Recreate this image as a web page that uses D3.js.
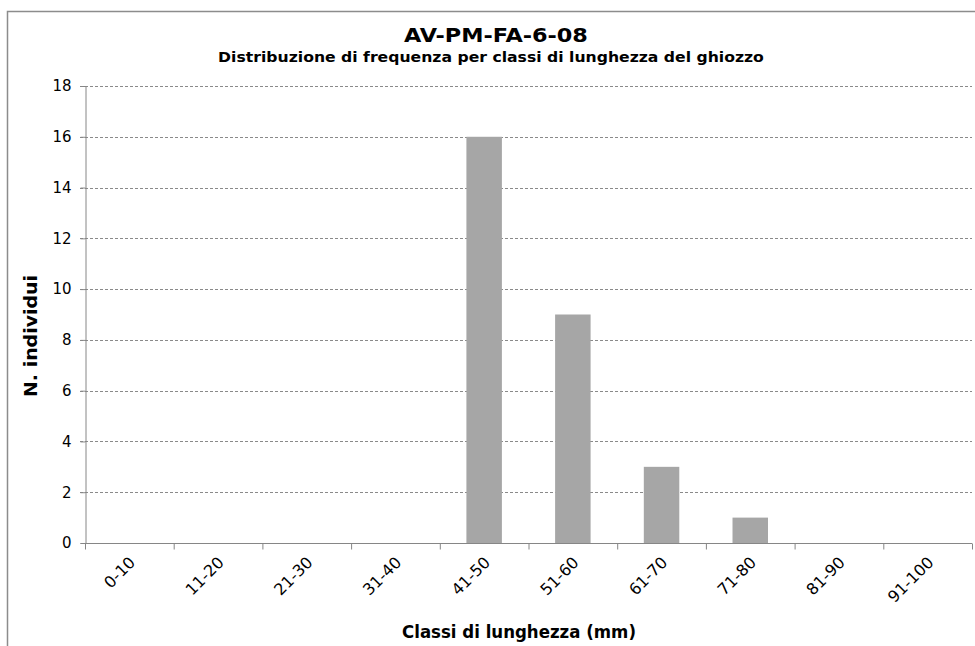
<!DOCTYPE html>
<html>
<head>
<meta charset="utf-8">
<script src="https://cdn.jsdelivr.net/npm/d3@7"></script>
<style>
  body { margin: 0; background: #fff; }
  text { font-family: "DejaVu Sans", sans-serif; fill: #000; }
</style>
</head>
<body>
<div id="chart"></div>
<script>
// dati del grafico
var classi = ["0-10", "11-20", "21-30", "31-40", "41-50", "51-60", "61-70", "71-80", "81-90", "91-100"];
var individui = [0, 0, 0, 0, 16, 9, 3, 1, 0, 0];
var yTicks = [0, 2, 4, 6, 8, 10, 12, 14, 16, 18];

var width = 975, height = 646;
var margin = { top: 86, right: 3, bottom: 103, left: 85 };

var svg = d3.select("#chart").append("svg")
  .attr("width", width)
  .attr("height", height);

// cornice
svg.append("path")
  .attr("d", "M7.5," + height + "V11.5H" + width)
  .style("fill", "none")
  .style("stroke", "#8c8c8c")
  .style("stroke-width", 1.5);

var x = d3.scaleBand()
  .domain(classi)
  .range([margin.left, width - margin.right])
  .paddingInner(0.6)
  .paddingOuter(0.3);

var xTick = d3.scaleBand()
  .domain(classi)
  .range([margin.left, width - margin.right]);

var y = d3.scaleLinear()
  .domain([0, 18])
  .range([height - margin.bottom, margin.top]);

// griglia orizzontale
svg.append("g")
  .selectAll("line")
  .data(yTicks.filter(function (d) { return d > 0; }))
  .enter()
  .append("line")
  .attr("x1", margin.left - 5)
  .attr("x2", width - margin.right)
  .attr("y1", function (d) { return Math.round(y(d)) + 0.5; })
  .attr("y2", function (d) { return Math.round(y(d)) + 0.5; })
  .style("stroke", "#8a8a8a")
  .style("stroke-dasharray", "3,2");

// barre
svg.append("g")
  .selectAll("rect")
  .data(individui)
  .enter()
  .append("rect")
  .attr("x", function (d, i) { return x(classi[i]); })
  .attr("y", function (d) { return y(d); })
  .attr("width", x.bandwidth())
  .attr("height", function (d) { return y(0) - y(d); })
  .style("fill", "#a6a6a6");

// asse y
var yAxis = svg.append("g")
  .attr("transform", "translate(" + (margin.left + 0.5) + ",0)")
  .call(d3.axisLeft(y).tickValues(yTicks).tickSize(5).tickPadding(9));
yAxis.selectAll("path, line").style("stroke", "#868686");
yAxis.selectAll("text")
  .style("font-size", "15px")
  .style("font-family", "DejaVu Sans, sans-serif")
  .attr("fill", "#1a1a1a");

// asse x
var xAxisG = svg.append("g")
  .attr("transform", "translate(0," + (Math.round(y(0)) + 0.5) + ")");
xAxisG.append("line")
  .attr("x1", margin.left)
  .attr("x2", width - margin.right)
  .style("stroke", "#868686");
xAxisG.selectAll(".tick")
  .data(classi.concat(["__end"]))
  .enter()
  .append("line")
  .attr("x1", function (d, i) { return (i < classi.length ? xTick(d) : xTick.range()[1]) + 0.5; })
  .attr("x2", function (d, i) { return (i < classi.length ? xTick(d) : xTick.range()[1]) + 0.5; })
  .attr("y1", 0)
  .attr("y2", 6)
  .style("stroke", "#868686");
xAxisG.selectAll(".lbl")
  .data(classi)
  .enter()
  .append("text")
  .attr("class", "lbl")
  .attr("transform", function (d) {
    return "translate(" + (xTick(d) + xTick.bandwidth() / 2 + 3) + ",16) rotate(-45)";
  })
  .attr("text-anchor", "end")
  .attr("dy", "0.35em")
  .style("font-size", "16px")
  .attr("fill", "#1a1a1a")
  .text(function (d) { return d; });

// testo allargato in orizzontale fino alla larghezza voluta
function stretched(cx, cy, size, target, rot, label) {
  var t = svg.append("text")
    .attr("text-anchor", "middle")
    .style("font-weight", "bold")
    .style("font-size", size + "px")
    .text(label);
  var sx = target / t.node().getComputedTextLength();
  t.attr("transform", "translate(" + cx + "," + cy + ")" + (rot ? " rotate(" + rot + ")" : "") + " scale(" + sx + ",1)");
  return t;
}

// titoli
stretched(496, 42, 19.5, 184, 0, "AV-PM-FA-6-08");
stretched(491, 62, 13.5, 546, 0, "Distribuzione  di frequenza per classi  di lunghezza del ghiozzo");
stretched(37, 336, 17, 122, -90, "N. individui");
stretched(519, 638, 17, 234, 0, "Classi di lunghezza (mm)");
</script>
</body>
</html>
